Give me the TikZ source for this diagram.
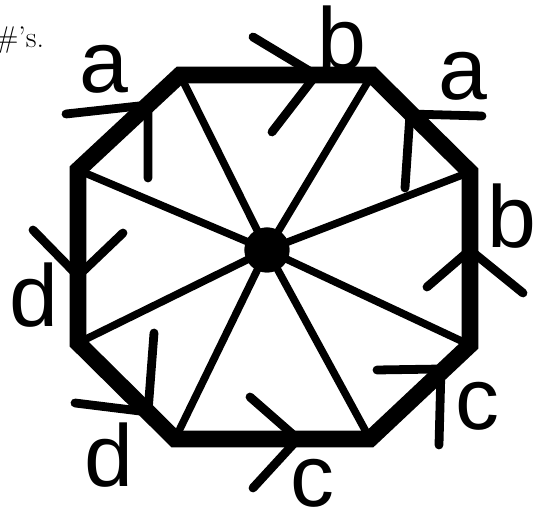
\documentclass[tikz,border=0pt]{standalone}
\usepackage{fontspec}
\newfontfamily\labfont{Liberation Sans}

\begin{document}
\begin{tikzpicture}[
  rim/.style={line width=9.5pt, line join=miter},
  spoke/.style={line width=4.3pt},
  arm/.style={line width=5pt, line cap=round, line join=round},
  hub/.style={circle, fill=black, minimum size=0.9cm, inner sep=0pt},
  lab/.style={font=\labfont\fontsize{50}{60}\selectfont, anchor=base, inner sep=0pt},
  note/.style={font=\fontsize{17}{20}\selectfont, anchor=base west, inner sep=0pt},
]
\useasboundingbox (-5.34,-5.28) rectangle (5.56,5.00);

% ---- corners of the octagon and the hub
\coordinate (v1) at (-1.74,3.50);
\coordinate (v2) at (2.10,3.50);
\coordinate (v3) at (4.06,1.56);
\coordinate (v4) at (4.06,-1.90);
\coordinate (v5) at (2.06,-3.78);
\coordinate (v6) at (-1.84,-3.78);
\coordinate (v7) at (-3.78,-1.86);
\coordinate (v8) at (-3.78,1.60);
\node[hub] (hub) at (0,0) {};

% ---- spokes, then the rim
\draw[spoke] (hub.center) -- (v1);
\draw[spoke] (hub.center) -- (v2);
\draw[spoke] (hub.center) -- (v3);
\draw[spoke] (hub.center) -- (v4);
\draw[spoke] (hub.center) -- (v5);
\draw[spoke] (hub.center) -- (v6);
\draw[spoke] (hub.center) -- (v7);
\draw[spoke] (hub.center) -- (v8);
\draw[rim] (v1) -- (v2) -- (v3) -- (v4) -- (v5) -- (v6) -- (v7) -- (v8) -- cycle;
\node[hub] at (hub) {};

% ---- arrow tips on the edges
\coordinate (t1) at (-2.38,2.90);  \coordinate (p1) at (-4.02,2.72);  \coordinate (q1) at (-2.38,1.44);
\coordinate (t2) at (0.98,3.50);   \coordinate (p2) at (-0.28,4.26);  \coordinate (q2) at (0.10,2.36);
\coordinate (t3) at (2.86,2.72);   \coordinate (p3) at (4.30,2.68);   \coordinate (q3) at (2.76,1.24);
\coordinate (t4) at (4.06,0.00);   \coordinate (p4) at (3.20,-0.74);  \coordinate (q4) at (5.12,-0.86);
\coordinate (t5) at (3.48,-2.38);  \coordinate (p5) at (2.20,-2.40);  \coordinate (q5) at (3.44,-3.90);
\coordinate (t6) at (0.62,-3.78);  \coordinate (p6) at (-0.34,-2.94); \coordinate (q6) at (-0.28,-4.76);
\coordinate (t7) at (-2.38,-3.24); \coordinate (p7) at (-3.84,-3.06); \coordinate (q7) at (-2.26,-1.66);
\coordinate (t8) at (-3.78,-0.52); \coordinate (p8) at (-4.68,0.40);  \coordinate (q8) at (-2.88,0.34);

\draw[arm] (p1) -- (t1) -- (q1);
\draw[arm] (p2) -- (t2) -- (q2);
\draw[arm] (p3) -- (t3) -- (q3);
\draw[arm] (p4) -- (t4) -- (q4);
\draw[arm] (p5) -- (t5) -- (q5);
\draw[arm] (p6) -- (t6) -- (q6);
\draw[arm] (p7) -- (t7) -- (q7);
\draw[arm] (p8) -- (t8) -- (q8);

% ---- edge letters
\node[lab] (la1) at (-3.26,3.14) {a};
\node[lab] (lb1) at (1.50,3.60)  {b};
\node[lab] (la2) at (3.92,3.00)  {a};
\node[lab] (lb2) at (4.90,0.04)  {b};
\node[lab] (lc1) at (4.20,-3.60) {c};
\node[lab] (lc2) at (0.90,-5.14) {c};
\node[lab] (ld1) at (-3.16,-4.74) {d};
\node[lab] (ld2) at (-4.66,-1.54) {d};

% ---- text cut at the left edge
\node[note] (txt) at (-5.44,4.04) {\#'s.};

\end{tikzpicture}
\end{document}
